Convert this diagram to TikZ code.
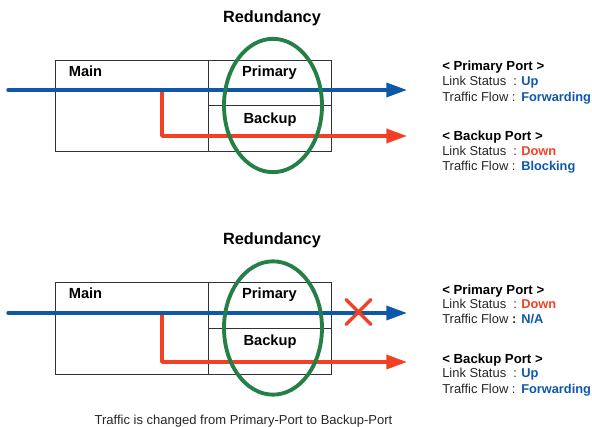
\documentclass[tikz,border=0pt]{standalone}
\usepackage{fontspec}
\setmainfont{Liberation Sans}
\usetikzlibrary{arrows.meta,shapes.geometric}
\definecolor{bl}{RGB}{14,88,168}
\definecolor{rd}{RGB}{242,64,36}
\definecolor{gr}{RGB}{36,128,70}
\definecolor{bx}{RGB}{50,50,50}
\tikzset{
  x=0.75pt,y=-0.75pt,
  boxn/.style={draw=bx,line width=0.7pt,minimum height=0pt,minimum width=0pt,inner sep=0pt,outer sep=0pt},
  ring/.style={draw=gr,line width=2.9pt,ellipse,inner sep=0pt,outer sep=0pt,minimum width=73.5pt,minimum height=100pt},
  title/.style={font=\fontsize{12.2pt}{14pt}\selectfont\bfseries,inner sep=0pt,anchor=base},
  lab/.style={font=\fontsize{11pt}{13pt}\selectfont\bfseries,inner sep=0pt,anchor=base},
  side/.style={font=\fontsize{9.7pt}{11pt}\selectfont,inner sep=0pt,anchor=base west,text=black!85},
  sideb/.style={side,font=\fontsize{9.6pt}{11pt}\selectfont\bfseries,text=black},
  head/.style={side,font=\fontsize{9.9pt}{11pt}\selectfont\bfseries,text=black},
  blueline/.style={draw=bl,line width=2.6pt,line cap=round,-{Triangle[length=15.5pt,width=10.5pt]}},
  redline/.style={draw=rd,line width=2.6pt,line join=round,line cap=round,-{Triangle[length=15.5pt,width=10.5pt]}},
  crossline/.style={draw=rd,line width=2.4pt,line cap=round},
}
\begin{document}
\begin{tikzpicture}
\useasboundingbox (0,0) rectangle (592,427);
% top
\node[boxn,minimum width=114.75pt,minimum height=68.625pt] (m1) at (131.5,105.75) {};
\node[boxn,minimum width=92.25pt,minimum height=34.125pt] (p1) at (269.5,82.75) {};
\node[boxn,minimum width=92.25pt,minimum height=34.5pt] (b1) at (269.5,128.5) {};
\node[lab] (tm1) at (85.5,76.5) {Main};
\node[lab] (tp1) at (269.5,76.5) {Primary};
\node[lab] (tb1) at (270,123.5) {Backup};
\node[title] (t1) at (272,23) {Redundancy};
\coordinate (s1) at (8,90); \coordinate (e1) at (407,90);
\coordinate (j1) at (162,90); \coordinate (c1) at (162,136); \coordinate (r1) at (407,136);
\draw[redline] (j1) -- (c1) -- (r1);
\draw[blueline] (s1) -- (e1);
\node[ring] (o1) at (273,105.5) {};
\node[head] (a1) at (442,71) {< Primary Port >};
\node[side] (a2) at (442,86) {Link Status\ \ :};
\node[sideb,text=bl] (a3) at (521,86) {Up};
\node[side] (a4) at (442,101.5) {Traffic Flow :};
\node[sideb,text=bl] (a5) at (521,101.5) {Forwarding};
\node[head] (a6) at (442,140.5) {< Backup Port >};
\node[side] (a7) at (442,156) {Link Status\ \ :};
\node[sideb,text=rd] (a8) at (521,156) {Down};
\node[side] (a9) at (442,171) {Traffic Flow :};
\node[sideb,text=bl] (a10) at (521,171) {Blocking};
% bottom
\node[boxn,minimum width=114.75pt,minimum height=69pt] (m2) at (131.5,328) {};
\node[boxn,minimum width=92.25pt,minimum height=34.5pt] (p2) at (269.5,305) {};
\node[boxn,minimum width=92.25pt,minimum height=34.5pt] (b2) at (269.5,351) {};
\node[lab] (tm2) at (85.5,298.5) {Main};
\node[lab] (tp2) at (269.5,298.5) {Primary};
\node[lab] (tb2) at (270,345.5) {Backup};
\node[title] (t2) at (272,245) {Redundancy};
\coordinate (s2) at (8,313); \coordinate (e2) at (407,313);
\coordinate (j2) at (162,313); \coordinate (c2) at (162,362); \coordinate (r2) at (407,362);
\draw[redline] (j2) -- (c2) -- (r2);
\draw[blueline] (s2) -- (e2);
\node[ring] (o2) at (273,328) {};
\coordinate (x1) at (346,299.5); \coordinate (x2) at (371,324.5);
\coordinate (x3) at (371,299.5); \coordinate (x4) at (346,324.5);
\draw[crossline] (x1) -- (x2);
\draw[crossline] (x3) -- (x4);
\node[head] (d1) at (442,294.5) {< Primary Port >};
\node[side] (d2) at (442,309) {Link Status\ \ :};
\node[sideb,text=rd] (d3) at (521,309) {Down};
\node[side] (d4) at (442,324) {Traffic Flow \textbf{:}};
\node[sideb,text=bl] (d5) at (521,324) {N/A};
\node[head] (d6) at (442,363.5) {< Backup Port >};
\node[side] (d7) at (442,378) {Link Status\ \ :};
\node[sideb,text=bl] (d8) at (521,378) {Up};
\node[side] (d9) at (442,393) {Traffic Flow :};
\node[sideb,text=bl] (d10) at (521,393) {Forwarding};
\node[side,anchor=base,font=\fontsize{9.75pt}{11pt}\selectfont] (cap) at (243.5,424) {Traffic is changed from Primary-Port to Backup-Port};
\end{tikzpicture}
\end{document}
